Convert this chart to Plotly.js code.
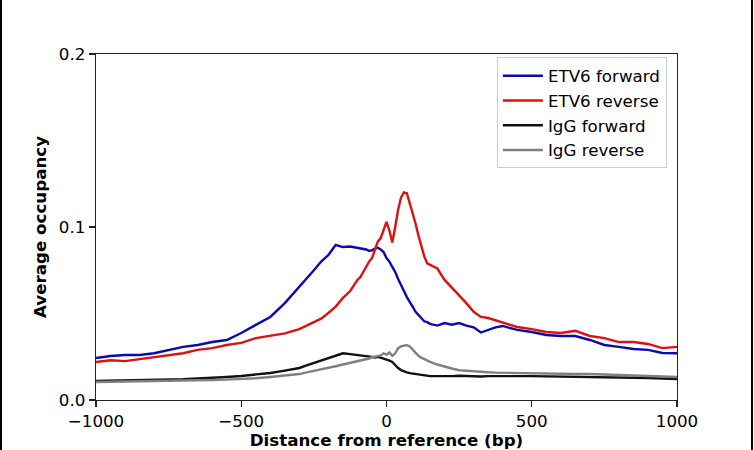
<!DOCTYPE html>
<html>
<head>
<meta charset="utf-8">
<script src="https://cdn.plot.ly/plotly-3.0.1.min.js"></script>
<style>
  html, body { margin: 0; padding: 0; background: #fff; }
  #wrap { position: relative; width: 754px; height: 450px; }
  #chart { width: 754px; height: 450px; }
  .edge { position: absolute; top: 0; width: 2px; height: 450px; background: #000; }
</style>
</head>
<body>
<div id="wrap">
  <div id="chart"></div>
  <div class="edge" style="left:0px;"></div>
  <div class="edge" style="left:751px;"></div>
</div>
<script>
// Distance from reference (bp)
var distance = [
  -1000,-950,-900,-850,-800,-750,-700,-650,-600,-550,-500,-450,-400,-350,-300,
  -275,-250,-225,-200,-175,-150,-125,
  -100,-90,-80,-70,-60,-50,-40,-30,-20,-10,0,10,20,30,40,50,60,70,80,90,100,110,120,130,140,150,
  175,200,225,250,275,300,325,350,375,
  400,450,500,550,600,650,700,750,800,850,900,950,1000
];

var etv6Forward = [
  0.0243,0.0254,0.0260,0.0260,0.0270,0.0290,0.0307,0.0318,0.0335,0.0347,0.0387,0.0434,0.0480,0.0560,0.0653,
  0.0700,0.0750,0.0800,0.0838,0.0896,0.0884,0.0887,
  0.0879,0.0875,0.0872,0.0870,0.0862,0.0865,0.0875,0.0880,0.0870,0.0855,0.0820,0.0800,0.0770,0.0740,0.0700,0.0660,0.0630,0.0595,0.0570,0.0540,0.0510,0.0490,0.0470,0.0455,0.0450,0.0440,
  0.0430,0.0445,0.0435,0.0445,0.0430,0.0420,0.0390,0.0405,0.0420,
  0.0428,0.0405,0.0393,0.0376,0.0370,0.0370,0.0347,0.0318,0.0307,0.0295,0.0290,0.0272,0.0270
];

var etv6Reverse = [
  0.0220,0.0230,0.0225,0.0237,0.0249,0.0260,0.0270,0.0290,0.0300,0.0318,0.0330,0.0358,0.0370,0.0385,0.0410,
  0.0430,0.0450,0.0470,0.0503,0.0540,0.0590,0.0630,
  0.0694,0.0710,0.0740,0.0770,0.0800,0.0820,0.0870,0.0915,0.0936,0.0980,0.1030,0.0980,0.0910,0.1000,0.1100,0.1170,0.1200,0.1195,0.1140,0.1080,0.1020,0.0950,0.0890,0.0830,0.0790,0.0780,
  0.0760,0.0694,0.0650,0.0607,0.0560,0.0510,0.0480,0.0474,0.0460,
  0.0450,0.0422,0.0410,0.0393,0.0387,0.0400,0.0370,0.0358,0.0335,0.0335,0.0324,0.0300,0.0307
];

var iggForward = [
  0.0110,0.0111,0.0112,0.0114,0.0116,0.0118,0.0120,0.0124,0.0127,0.0133,0.0139,0.0146,0.0156,0.0170,0.0185,
  0.0200,0.0214,0.0230,0.0245,0.0260,0.0270,0.0265,
  0.0260,0.0260,0.0255,0.0252,0.0250,0.0249,0.0245,0.0250,0.0245,0.0240,0.0237,0.0228,0.0220,0.0200,0.0185,0.0173,0.0165,0.0160,0.0155,0.0152,0.0150,0.0148,0.0145,0.0142,0.0140,0.0138,
  0.0138,0.0136,0.0138,0.0140,0.0138,0.0137,0.0136,0.0138,0.0139,
  0.0139,0.0138,0.0138,0.0137,0.0136,0.0135,0.0133,0.0132,0.0130,0.0128,0.0127,0.0124,0.0121
];

var iggReverse = [
  0.0104,0.0105,0.0106,0.0108,0.0110,0.0112,0.0114,0.0115,0.0116,0.0118,0.0120,0.0126,0.0133,0.0140,0.0150,
  0.0160,0.0168,0.0176,0.0183,0.0195,0.0205,0.0215,
  0.0225,0.0228,0.0230,0.0235,0.0240,0.0247,0.0250,0.0254,0.0258,0.0270,0.0262,0.0275,0.0255,0.0270,0.0300,0.0310,0.0315,0.0318,0.0310,0.0290,0.0270,0.0255,0.0245,0.0235,0.0228,0.0220,
  0.0205,0.0192,0.0182,0.0172,0.0168,0.0165,0.0162,0.0160,0.0158,
  0.0157,0.0156,0.0155,0.0154,0.0152,0.0150,0.0150,0.0147,0.0145,0.0143,0.0139,0.0136,0.0133
];

var seriesNames = ["ETV6 forward", "ETV6 reverse", "IgG forward", "IgG reverse"];
var seriesColors = ["#0a0ab0", "#dd1111", "#111111", "#808080"];
var seriesValues = [etv6Forward, etv6Reverse, iggForward, iggReverse];

var xTickVals = [-1000, -500, 0, 500, 1000];
var xTickText = ["\u22121000", "\u2212500", "0", "500", "1000"];
var yTickVals = [0, 0.1, 0.2];
var yTickText = ["0.0", "0.1", "0.2"];

var traces = seriesValues.map(function (vals, i) {
  return {
    x: distance,
    y: vals,
    type: "scatter",
    mode: "lines",
    name: seriesNames[i],
    legendgroup: "g" + i,
    line: { color: seriesColors[i], width: 2.4 },
    hoverinfo: "skip"
  };
});

var fontFam = "DejaVu Sans, Verdana, sans-serif";
var fs = 16.7;

var layout = {
  width: 754,
  height: 450,
  margin: { l: 96, r: 77, t: 54, b: 50 },
  paper_bgcolor: "#ffffff",
  plot_bgcolor: "#ffffff",
  font: { family: fontFam, size: fs, color: "#000" },
  showlegend: true,
  legend: {
    x: 0.690, y: 0.990, xanchor: "left", yanchor: "top",
    bgcolor: "rgba(255,255,255,0.9)",
    bordercolor: "#cccccc",
    borderwidth: 1,
    font: { family: fontFam, size: fs, color: "#000" },
    itemwidth: 40,
    tracegroupgap: 0,
    traceorder: "grouped"
  },
  xaxis: {
    range: [-1000, 1000],
    tickvals: xTickVals,
    ticktext: xTickText,
    ticks: "outside",
    ticklen: 6,
    tickwidth: 1.2,
    tickcolor: "#222",
    showline: true,
    linecolor: "#222",
    linewidth: 1.3,
    mirror: true,
    showgrid: false,
    zeroline: false,
    tickfont: { family: fontFam, size: fs, color: "#000" },
    title: { text: "<b>Distance from reference (bp)</b>", font: { family: fontFam, size: fs, color: "#000" }, standoff: 6 }
  },
  yaxis: {
    range: [0, 0.2],
    tickvals: yTickVals,
    ticktext: yTickText,
    ticks: "outside",
    ticklen: 6,
    tickwidth: 1.2,
    tickcolor: "#222",
    showline: true,
    linecolor: "#222",
    linewidth: 1.3,
    mirror: true,
    showgrid: false,
    zeroline: false,
    tickfont: { family: fontFam, size: fs, color: "#000" },
    title: { text: "<b>Average occupancy</b>", font: { family: fontFam, size: fs, color: "#000" }, standoff: 8 }
  }
};

Plotly.newPlot("chart", traces, layout, { displayModeBar: false, staticPlot: true });
</script>
</body>
</html>
